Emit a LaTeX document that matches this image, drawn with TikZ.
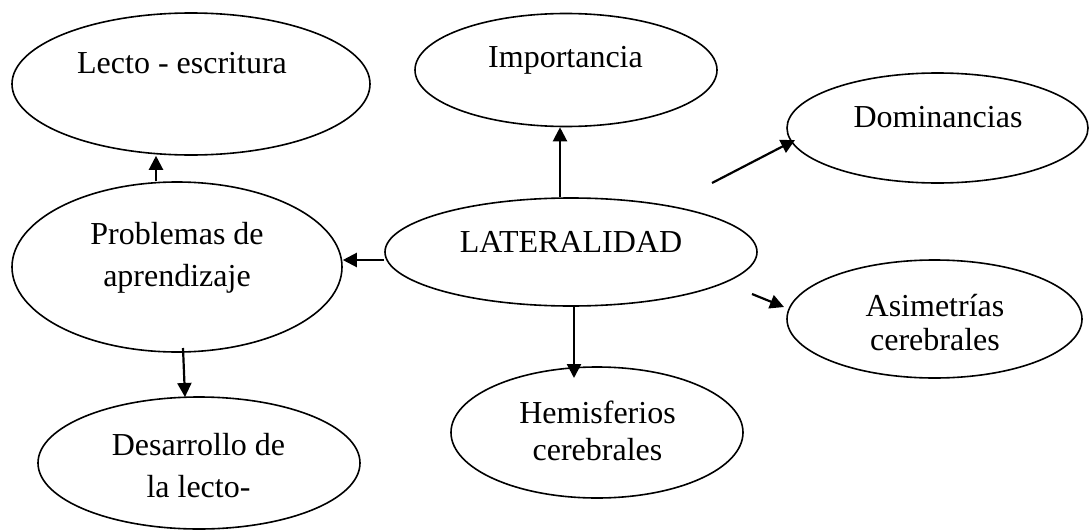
\documentclass[tikz,border=0pt]{standalone}
\usepackage{fontspec}
\setmainfont{Liberation Serif}
\usetikzlibrary{shapes.geometric,arrows.meta}
\begin{document}
\begin{tikzpicture}[x=1pt,y=-1pt,
  bubble/.style={draw,ellipse,line width=1.6pt,inner sep=0pt},
  txt/.style={font=\fontsize{32}{40}\selectfont,align=center,anchor=base,inner sep=0pt},
  arr/.style={line width=2.2pt,-{Triangle[length=14pt,width=14pt]}}]
\useasboundingbox (0,0) rectangle (1090,530);
% ellipses
\node[bubble,minimum width=358pt,minimum height=142pt] (lecto) at (191,84) {};
\node[bubble,minimum width=302pt,minimum height=113pt] (imp) at (566,70) {};
\node[bubble,minimum width=301pt,minimum height=110pt] (dom) at (937.5,128) {};
\node[bubble,minimum width=330pt,minimum height=170pt] (prob) at (177,267) {};
\node[bubble,minimum width=372pt,minimum height=108pt] (lat) at (571,252) {};
\node[bubble,minimum width=295pt,minimum height=118pt] (asim) at (934.5,319) {};
\node[bubble,minimum width=292pt,minimum height=131pt] (hem) at (597,432.5) {};
\node[bubble,minimum width=322pt,minimum height=132pt] (des) at (199,463) {};
% texts (multi-line nodes anchored at last baseline)
\node[txt] (lectot) at (182,73) {Lecto - escritura};
\node[txt] (impt) at (565.5,67) {Importancia};
\node[txt] (domt) at (938,127) {Dominancias};
\node[txt,font=\fontsize{32}{42}\selectfont] (probt) at (177,286) {Problemas de\\aprendizaje};
\node[txt] (latt) at (571,252) {LATERALIDAD};
\node[txt,font=\fontsize{32}{34}\selectfont] (asimt) at (935,350) {Asimetrías\\cerebrales};
\node[txt,font=\fontsize{32}{37}\selectfont] (hemt) at (597.5,460) {Hemisferios\\cerebrales};
\node[txt,font=\fontsize{32}{42}\selectfont] (dest) at (198.5,497) {Desarrollo de\\la lecto-};
% free ends of connectors
\coordinate (xa) at (560,0);
\coordinate (xb) at (156,0);
\coordinate (yc) at (0,260);
\coordinate (xe) at (574,0);
\coordinate (domfrom) at (712,183);
\coordinate (domto) at (795,140);
\coordinate (asimfrom) at (752,294);
\coordinate (asimto) at (784,307);
\coordinate (desfrom) at (183,348);
\coordinate (desto) at (185,397);
\coordinate (hemto) at (574,378);
% connectors
\draw[arr] (lat.north -| xa) -- (imp.south -| xa);
\draw[arr] (prob.north -| xb) -- (lecto.south -| xb);
\draw[arr] (lat.west |- yc) -- (prob.east |- yc);
\draw[arr] (lat.south -| xe) -- (hemto);
\draw[arr] (domfrom) -- (domto);
\draw[arr] (asimfrom) -- (asimto);
\draw[arr] (desfrom) -- (desto);
\end{tikzpicture}
\end{document}
